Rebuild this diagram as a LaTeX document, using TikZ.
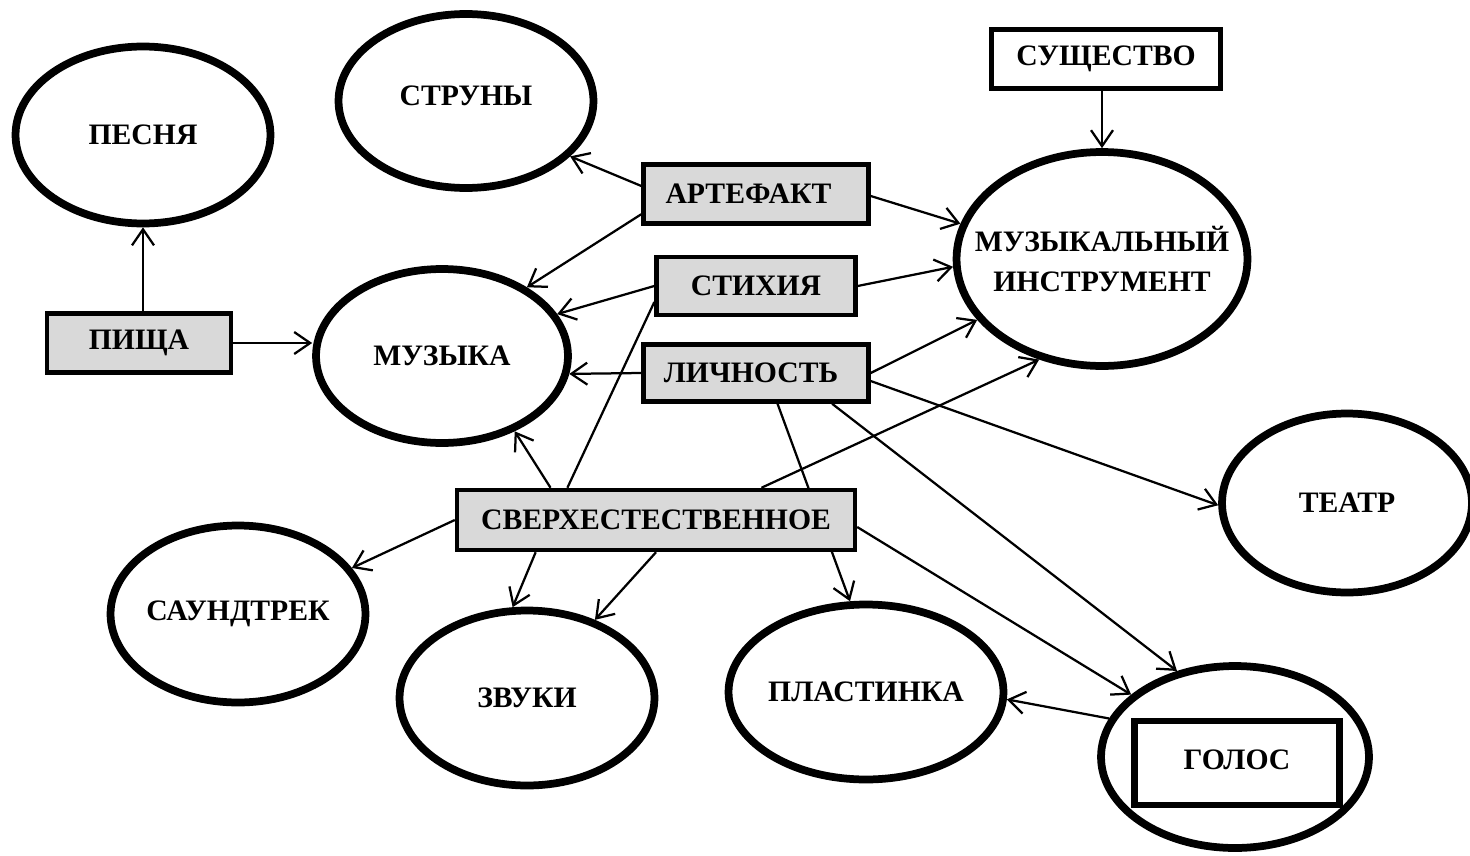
\documentclass[tikz,border=0pt]{standalone}
\usepackage{fontspec}
\setmainfont{Liberation Serif}
\usetikzlibrary{arrows.meta,shapes.geometric,backgrounds}
\definecolor{boxgray}{HTML}{D9D9D9}
\tikzset{
  ell/.style  = {ellipse, draw, line width=0.155cm, fill=white, align=center,
                 inner sep=-0.5cm, font=\bfseries\fontsize{16.9}{22.5}\selectfont},
  gbox/.style = {rectangle, draw, line width=0.09cm, fill=boxgray, align=center,
                 inner sep=0pt, font=\bfseries\fontsize{16.9}{22.5}\selectfont},
  wbox/.style = {gbox, fill=white},
  ar/.style   = {-{Straight Barb[length=0.32cm,width=0.44cm]}, line width=0.045cm},
  ln/.style   = {line width=0.045cm},
}
\begin{document}
\begin{tikzpicture}[x=0.02cm, y=-0.02cm]
  \useasboundingbox (0,0) rectangle (1470,855);
  \node[ell, minimum width=5.1cm, minimum height=3.54cm] (pesnya) at (143,135) {ПЕСНЯ};
  \node[ell, minimum width=5.1cm, minimum height=3.48cm] (struny) at (466,101) {\raisebox{0.2cm}{СТРУНЫ}};
  \node[ell, minimum width=5.04cm, minimum height=3.48cm] (muzyka) at (442,356) {МУЗЫКА};
  \node[ell, minimum width=5.82cm, minimum height=4.28cm] (instr) at (1102,259) {МУЗЫКАЛЬНЫЙ\\ИНСТРУМЕНТ};
  \node[ell, minimum width=5.0cm, minimum height=3.58cm] (teatr) at (1347,503) {ТЕАТР};
  \node[ell, minimum width=5.1cm, minimum height=3.54cm] (saund) at (238,614) {\raisebox{0.08cm}{САУНДТРЕК}};
  \node[ell, minimum width=5.1cm, minimum height=3.5cm] (zvuki) at (527,698) {ЗВУКИ};
  \node[ell, minimum width=5.5cm, minimum height=3.5cm] (plast) at (866,692) {ПЛАСТИНКА};
  \node[ell, minimum width=5.36cm, minimum height=3.64cm] (golosell) at (1235,757) {};
  \node[wbox, line width=0.13cm, minimum width=4.1cm, minimum height=1.68cm] (golos) at (1237,763) {\raisebox{0.15cm}{ГОЛОС}};

  \node[gbox, minimum width=3.68cm, minimum height=1.18cm] (pishcha) at (139,343) {ПИЩА};
  \node[gbox, minimum width=4.5cm, minimum height=1.18cm] (artef) at (756,194) {\hspace*{-0.3cm}АРТЕФАКТ};
  \node[gbox, minimum width=3.98cm, minimum height=1.16cm] (stix) at (756,286) {СТИХИЯ};
  \node[gbox, minimum width=4.5cm, minimum height=1.14cm] (lichn) at (756,373) {\hspace*{-0.2cm}ЛИЧНОСТЬ};
  \node[gbox, minimum width=7.96cm, minimum height=1.2cm] (sverh) at (656,520) {СВЕРХЕСТЕСТВЕННОЕ};
  \node[wbox, minimum width=4.58cm, minimum height=1.18cm] (sushch) at (1106,59) {СУЩЕСТВО};

  \begin{scope}[on background layer]
    \draw[ar] (pesnya.south |- pishcha.north) -- (pesnya.south);
    \draw[ar] (pishcha.east) -- (pishcha.east -| muzyka.west);
    \draw[ar] (instr.north |- sushch.south) -- (instr.north);
    \draw[ar] (artef.176) -- (struny.-28);
    \draw[ar] (artef.190) -- (muzyka.39);
    \draw[ar] (artef.-1) -- (instr.166);
    \draw[ar] (stix.west) -- (muzyka.20);
    \draw[ar] (stix.east) -- (instr.183);
    \draw[ar] (lichn.west) -- (muzyka.-8);
    \draw[ar] (lichn.east) -- (instr.206);
    \draw[ar] (lichn.-4.5) -- (teatr.181);
    \draw[ar] (lichn.-22.4) -- (golosell.124);
    \draw[ar] (lichn.-55.5) -- (plast.100);
    \draw[ln] (stix.189) -- (sverh.160);
    \draw[ar] (sverh.163) -- (muzyka.-46);
    \draw[ar] (sverh.17) -- (instr.238);
    \draw[ar] (sverh.west) -- (saund.22);
    \draw[ar] (sverh.195) -- (zvuki.99);
    \draw[ar] (sverh.south) -- (zvuki.49);
    \draw[ar] (sverh.-2) -- (golosell.149);
    \draw[ar] (golosell.163) -- (plast.-3);
  \end{scope}
\end{tikzpicture}
\end{document}
